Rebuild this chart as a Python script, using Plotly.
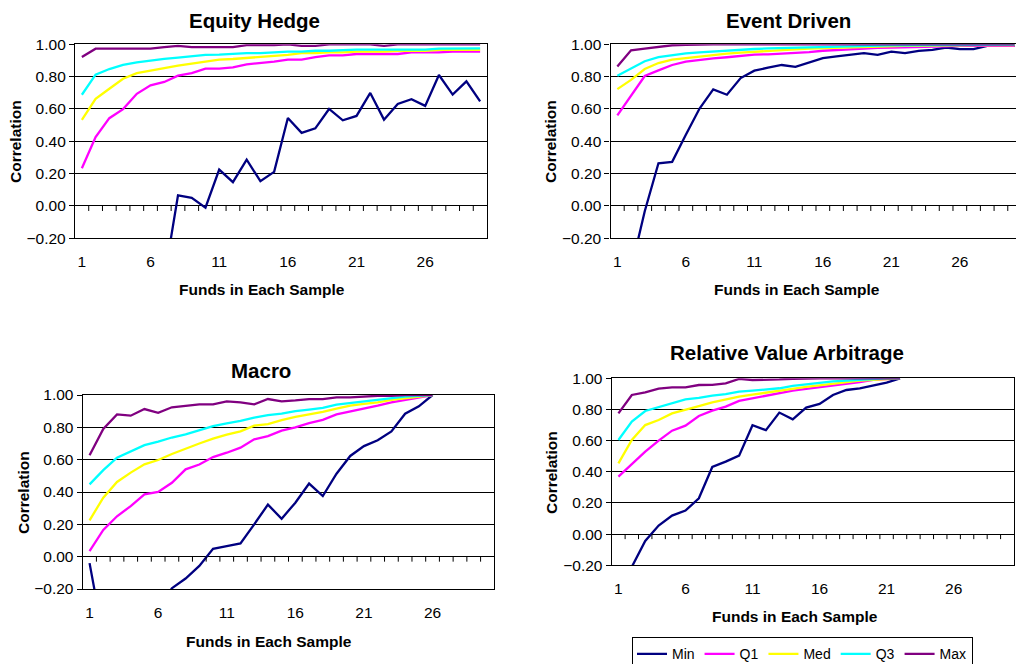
import plotly.graph_objects as go

# ---------------- data ----------------
funds = list(range(1, 31))
x_tick_vals = [1, 6, 11, 16, 21, 26]
x_tick_text = ["1", "6", "11", "16", "21", "26"]
y_tick_vals = [-0.2, 0.0, 0.2, 0.4, 0.6, 0.8, 1.0]

series_names = ["Min", "Q1", "Med", "Q3", "Max"]
series_colors = ["#000080", "#FF00FF", "#FFFF00", "#00FFFF", "#800080"]

panel_titles = ["Equity Hedge", "Event Driven", "Macro", "Relative Value Arbitrage"]

eh_min = [-0.95, -0.9, -0.8, -0.75, -0.65, -0.55, -0.45, 0.066, 0.05, -0.01, 0.225, 0.147, 0.287, 0.153, 0.211,
          0.544, 0.452, 0.48, 0.60, 0.53, 0.557, 0.699, 0.534, 0.631, 0.66, 0.619, 0.81, 0.689, 0.771, 0.647]
eh_q1 = [0.233, 0.426, 0.543, 0.599, 0.694, 0.746, 0.767, 0.806, 0.822, 0.849, 0.849, 0.857, 0.876, 0.884, 0.893,
         0.905, 0.905, 0.92, 0.932, 0.932, 0.94, 0.94, 0.94, 0.94, 0.95, 0.95, 0.95, 0.955, 0.955, 0.955]
eh_med = [0.533, 0.663, 0.725, 0.787, 0.822, 0.839, 0.853, 0.868, 0.88, 0.893, 0.905, 0.909, 0.915, 0.922, 0.928,
          0.935, 0.945, 0.945, 0.95, 0.95, 0.955, 0.955, 0.955, 0.96, 0.96, 0.96, 0.965, 0.965, 0.965, 0.965]
eh_q3 = [0.688, 0.812, 0.847, 0.872, 0.888, 0.90, 0.91, 0.917, 0.926, 0.934, 0.936, 0.942, 0.946, 0.946, 0.952,
         0.955, 0.955, 0.96, 0.96, 0.965, 0.967, 0.967, 0.967, 0.967, 0.967, 0.967, 0.973, 0.973, 0.973, 0.975]
eh_max = [0.921, 0.973, 0.973, 0.973, 0.973, 0.973, 0.982, 0.99, 0.983, 0.983, 0.983, 0.983, 0.995, 0.995, 0.995,
          1.0, 0.99, 0.99, 1.0, 1.0, 1.0, 1.0, 0.99, 1.0, 1.0, 1.0, 1.0, 1.0, 1.0, 1.0]

ed_min = [-0.75, -0.39, -0.033, 0.264, 0.273, 0.44, 0.603, 0.721, 0.688, 0.791, 0.837, 0.855, 0.872, 0.86, 0.886,
          0.915, 0.925, 0.935, 0.945, 0.935, 0.955, 0.945, 0.96, 0.965, 0.98, 0.97, 0.97, 0.99, 0.99, 0.99]
ed_q1 = [0.56, 0.684, 0.804, 0.839, 0.872, 0.893, 0.905, 0.913, 0.92, 0.93, 0.936, 0.938, 0.942, 0.946, 0.952,
         0.96, 0.965, 0.97, 0.975, 0.978, 0.98, 0.983, 0.985, 0.985, 0.988, 0.99, 0.99, 0.99, 0.99, 0.99]
ed_med = [0.723, 0.78, 0.847, 0.884, 0.905, 0.915, 0.926, 0.936, 0.942, 0.948, 0.954, 0.96, 0.967, 0.969, 0.973,
          0.976, 0.978, 0.98, 0.983, 0.985, 0.988, 0.99, 0.99, 0.992, 0.993, 0.994, 0.995, 0.995, 0.995, 0.995]
ed_q3 = [0.806, 0.853, 0.895, 0.921, 0.934, 0.944, 0.95, 0.956, 0.963, 0.967, 0.971, 0.975, 0.977, 0.981, 0.985,
         0.987, 0.988, 0.99, 0.99, 0.992, 0.993, 0.994, 0.995, 0.995, 0.996, 0.997, 0.997, 0.998, 0.998, 0.998]
ed_max = [0.862, 0.963, 0.973, 0.983, 0.994, 0.997, 1.0, 1.0, 1.0, 1.0, 1.0, 1.0, 1.0, 1.0, 1.0,
          1.0, 1.0, 1.0, 1.0, 1.0, 1.0, 1.0, 1.0, 1.0, 1.0, 1.0, 1.0, 1.0, 1.0, 1.0]

ma_min = [-0.04, -0.5, -0.56, -0.52, -0.45, -0.33, -0.195, -0.135, -0.057, 0.049, 0.065, 0.082, 0.2, 0.322, 0.235,
          0.334, 0.452, 0.375, 0.513, 0.623, 0.684, 0.72, 0.775, 0.884, 0.93, 1.0]
ma_q1 = [0.035, 0.165, 0.25, 0.313, 0.385, 0.40, 0.457, 0.54, 0.57, 0.616, 0.643, 0.674, 0.726, 0.746, 0.78,
         0.80, 0.826, 0.846, 0.88, 0.897, 0.913, 0.934, 0.955, 0.97, 0.985, 1.0]
ma_med = [0.225, 0.365, 0.462, 0.52, 0.571, 0.598, 0.635, 0.67, 0.70, 0.73, 0.755, 0.775, 0.81, 0.82, 0.845,
          0.865, 0.88, 0.895, 0.915, 0.935, 0.945, 0.955, 0.97, 0.98, 0.99, 1.0]
ma_q3 = [0.447, 0.535, 0.612, 0.65, 0.69, 0.712, 0.737, 0.757, 0.783, 0.808, 0.825, 0.84, 0.86, 0.875, 0.885,
         0.90, 0.91, 0.92, 0.94, 0.95, 0.96, 0.97, 0.98, 0.99, 0.995, 1.0]
ma_max = [0.627, 0.79, 0.88, 0.872, 0.913, 0.89, 0.924, 0.935, 0.942, 0.942, 0.961, 0.955, 0.942, 0.975, 0.961,
          0.967, 0.975, 0.975, 0.985, 0.985, 0.99, 0.995, 0.995, 1.0, 1.0, 1.0]

rv_min = [-0.6, -0.21, -0.044, 0.055, 0.119, 0.151, 0.23, 0.431, 0.465, 0.504, 0.699, 0.667, 0.78, 0.737, 0.812,
          0.836, 0.893, 0.925, 0.936, 0.953, 0.972, 1.0]
rv_q1 = [0.369, 0.45, 0.529, 0.60, 0.664, 0.696, 0.758, 0.792, 0.818, 0.855, 0.872, 0.889, 0.908, 0.921, 0.932,
         0.942, 0.952, 0.962, 0.975, 0.99, 0.995, 1.0]
rv_med = [0.454, 0.604, 0.70, 0.732, 0.775, 0.801, 0.822, 0.846, 0.865, 0.882, 0.895, 0.908, 0.92, 0.935, 0.945,
          0.955, 0.965, 0.975, 0.985, 0.99, 0.995, 1.0]
rv_q3 = [0.604, 0.722, 0.79, 0.814, 0.84, 0.865, 0.874, 0.889, 0.899, 0.914, 0.921, 0.929, 0.936, 0.951, 0.961,
         0.97, 0.98, 0.985, 0.99, 0.995, 1.0, 1.0]
rv_max = [0.775, 0.893, 0.91, 0.934, 0.942, 0.942, 0.957, 0.958, 0.968, 0.996, 0.989, 0.989, 0.993, 0.997, 1.0,
          1.0, 1.0, 1.0, 1.0, 1.0, 1.0, 1.0]

panels_data = [
    [eh_min, eh_q1, eh_med, eh_q3, eh_max],
    [ed_min, ed_q1, ed_med, ed_q3, ed_max],
    [ma_min, ma_q1, ma_med, ma_q3, ma_max],
    [rv_min, rv_q1, rv_med, rv_q3, rv_max],
]

# ---------------- layout geometry ----------------
W, H = 1016, 664
FONT = "Liberation Sans, Arial, sans-serif"

# plot areas in pixels: (left, right, top, bottom), x range end
areas = [
    (75, 487, 44.3, 238.3, 30.5),
    (610.5, 1016, 44.3, 238.3, 30.1),
    (82.7, 494.3, 395, 589, 30.5),
    (611.7, 1014, 378.3, 565.3, 30.5),
]
title_pos = [(254, 20), (788, 20), (261, 371), (787, 353)]
ytitle_pos = [(15, 142), (550, 142), (23, 493), (551, 473)]
xtitle_pos = [(262, 289), (797, 289), (269, 641), (795, 616)]

fig = go.Figure()
annotations = []
shapes = []

for i, data in enumerate(panels_data):
    xa = "x" if i == 0 else f"x{i+1}"
    ya = "y" if i == 0 else f"y{i+1}"
    for j, vals in enumerate(data):
        fig.add_trace(go.Scatter(
            x=funds[:len(vals)], y=vals, mode="lines",
            name=series_names[j], legendgroup=series_names[j],
            showlegend=(i == 0),
            line=dict(color=series_colors[j], width=2.3),
            xaxis=xa, yaxis=ya, hoverinfo="skip",
        ))
    l, r, t, b, xend = areas[i]
    xkey = "xaxis" if i == 0 else f"xaxis{i+1}"
    ykey = "yaxis" if i == 0 else f"yaxis{i+1}"
    fig.update_layout(**{
        xkey: dict(
            domain=[l / W, r / W], anchor=ya, range=[0.5, xend],
            tickmode="array", tickvals=x_tick_vals, ticktext=x_tick_text,
            ticks="", showgrid=False, zeroline=False,
            showline=True, linecolor="black", linewidth=1.3, mirror=True,
            tickfont=dict(family=FONT, size=15.5, color="black"),
            ticklabelstandoff=9, fixedrange=True, automargin=False,
        ),
        ykey: dict(
            domain=[1 - b / H, 1 - t / H], anchor=xa, range=[-0.2, 1.0],
            tickmode="array", tickvals=y_tick_vals, tickformat=".2f",
            ticks="outside", ticklen=5, tickcolor="black", tickwidth=1,
            showgrid=True, gridcolor="black", gridwidth=1,
            zeroline=True, zerolinecolor="black", zerolinewidth=1,
            showline=True, linecolor="black", linewidth=1.3,
            mirror=(i != 1),
            tickfont=dict(family=FONT, size=15.5, color="black"),
            fixedrange=True, automargin=False,
        ),
    })
    # category-boundary tick marks on the zero line
    k = 1.5
    while k < xend:
        shapes.append(dict(
            type="line", xref=xa, yref=ya, x0=k, x1=k,
            ysizemode="pixel", yanchor=0, y0=0, y1=-5,
            line=dict(color="black", width=1),
        ))
        k += 1
    tx, ty = title_pos[i]
    annotations.append(dict(
        text=f"<b>{panel_titles[i]}</b>", x=tx / W, y=1 - ty / H, xref="paper", yref="paper",
        showarrow=False, xanchor="center", yanchor="middle",
        font=dict(family=FONT, size=20.5, color="black"),
    ))
    yx, yy = ytitle_pos[i]
    annotations.append(dict(
        text="<b>Correlation</b>", x=yx / W, y=1 - yy / H, xref="paper", yref="paper",
        showarrow=False, xanchor="center", yanchor="middle", textangle=-90,
        font=dict(family=FONT, size=15.5, color="black"),
    ))
    xx, xy = xtitle_pos[i]
    annotations.append(dict(
        text="<b>Funds in Each Sample</b>", x=xx / W, y=1 - xy / H, xref="paper", yref="paper",
        showarrow=False, xanchor="center", yanchor="middle",
        font=dict(family=FONT, size=15.5, color="black"),
    ))

fig.update_layout(
    width=W, height=H,
    margin=dict(l=0, r=0, t=0, b=0, autoexpand=False),
    paper_bgcolor="white", plot_bgcolor="white",
    showlegend=True,
    legend=dict(
        orientation="h", x=632 / W, y=1 - 637.3 / H, xanchor="left", yanchor="top",
        bordercolor="black", borderwidth=1, bgcolor="white",
        font=dict(family=FONT, size=14, color="black"),
        itemwidth=30, tracegroupgap=0,
    ),
    annotations=annotations,
    shapes=shapes,
)

fig.write_html("out.html", config={"displayModeBar": False},
               post_script="document.body.style.margin='0';")
